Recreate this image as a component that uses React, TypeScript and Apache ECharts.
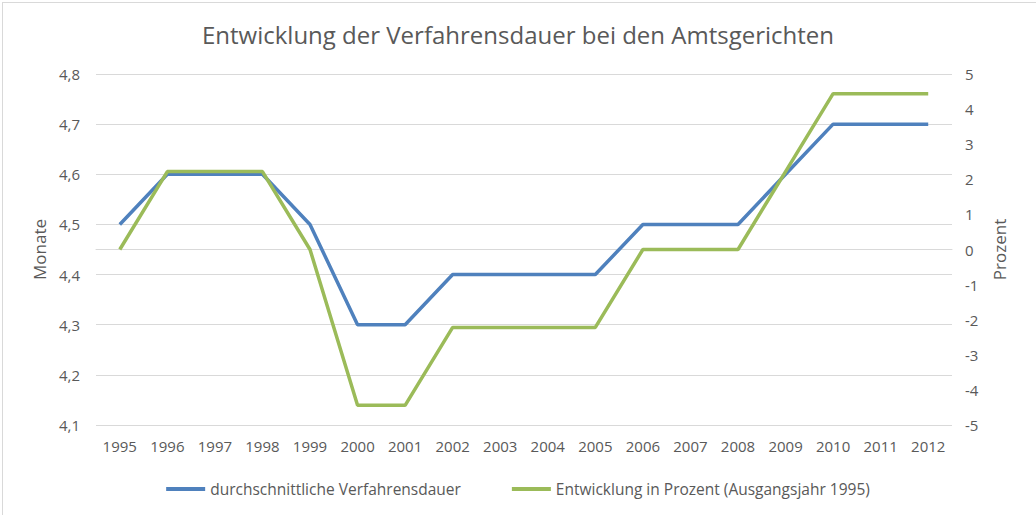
import React, { useEffect, useRef } from "react";
import * as echarts from "echarts";

const years = ["1995","1996","1997","1998","1999","2000","2001","2002","2003","2004","2005","2006","2007","2008","2009","2010","2011","2012"];
const dauer = [4.5,4.6,4.6,4.6,4.5,4.3,4.3,4.4,4.4,4.4,4.4,4.5,4.5,4.5,4.6,4.7,4.7,4.7];
const prozent = [0,2.22,2.22,2.22,0,-4.44,-4.44,-2.22,-2.22,-2.22,-2.22,0,0,0,2.22,4.44,4.44,4.44];
const seriesNames = ["durchschnittliche Verfahrensdauer", "Entwicklung in Prozent (Ausgangsjahr 1995)"];
const titleText = "Entwicklung der Verfahrensdauer bei den Amtsgerichten";

const FONT = "'Open Sans', sans-serif";
const TXT = "#595959";

export default function App() {
  const ref = useRef<HTMLDivElement>(null);
  useEffect(() => {
    if (!ref.current) return;
    const chart = echarts.init(ref.current, undefined, { renderer: "svg" });
    chart.setOption({
      animation: false,
      backgroundColor: "#ffffff",
      textStyle: { fontFamily: FONT },
      title: {
        text: titleText,
        left: "center",
        top: 17,
        textStyle: { fontFamily: FONT, fontSize: 24, fontWeight: "normal", color: TXT },
      },
      graphic: [
        { type: "line", shape: { x1: 2.5, y1: 2, x2: 2.5, y2: 515 }, style: { stroke: "#d9d9d9", lineWidth: 1 } },
        { type: "line", shape: { x1: 2, y1: 2.5, x2: 1036, y2: 2.5 }, style: { stroke: "#d9d9d9", lineWidth: 1 } },
      ],
      legend: {
        bottom: 13,
        left: "center",
        icon: "rect",
        itemWidth: 39,
        itemHeight: 4,
        itemGap: 51,
        textStyle: { fontFamily: FONT, fontSize: 15.5, color: TXT },
        data: seriesNames,
      },
      grid: { left: 96, right: 84, top: 74, bottom: 90 },
      xAxis: {
        type: "category",
        data: years,
        boundaryGap: true,
        axisLine: { lineStyle: { color: "#d9d9d9" } },
        axisTick: { show: false },
        axisLabel: { color: TXT, fontFamily: FONT, fontSize: 15, margin: 13 },
      },
      yAxis: [
        {
          type: "value",
          min: 4.1,
          max: 4.8,
          interval: 0.1,
          name: "Monate",
          nameLocation: "middle",
          nameRotate: 90,
          nameGap: 47,
          nameTextStyle: { color: TXT, fontFamily: FONT, fontSize: 17 },
          axisLine: { show: false },
          axisTick: { show: false },
          axisLabel: {
            color: TXT, fontFamily: FONT, fontSize: 15, margin: 16,
            formatter: (v: number) => v.toFixed(1).replace(".", ","),
          },
          splitLine: { lineStyle: { color: "#d9d9d9" } },
        },
        {
          type: "value",
          min: -5,
          max: 5,
          interval: 1,
          name: "Prozent",
          nameLocation: "middle",
          nameRotate: 90,
          nameGap: 39,
          nameTextStyle: { color: TXT, fontFamily: FONT, fontSize: 17 },
          axisLine: { show: false },
          axisTick: { show: false },
          axisLabel: { color: TXT, fontFamily: FONT, fontSize: 15, margin: 13 },
          splitLine: { show: false },
        },
      ],
      series: [
        {
          name: seriesNames[0],
          type: "line",
          yAxisIndex: 0,
          data: dauer,
          showSymbol: false,
          symbol: "none",
          lineStyle: { color: "#4F81BD", width: 3.5 },
          itemStyle: { color: "#4F81BD" },
        },
        {
          name: seriesNames[1],
          type: "line",
          yAxisIndex: 1,
          data: prozent,
          showSymbol: false,
          symbol: "none",
          lineStyle: { color: "#9BBB59", width: 3.5 },
          itemStyle: { color: "#9BBB59" },
        },
      ],
    });
    return () => chart.dispose();
  }, []);
  return (
    <div
      ref={ref}
      style={{ position: "fixed", left: 0, top: 0, width: 1036, height: 515 }}
    />
  );
}
